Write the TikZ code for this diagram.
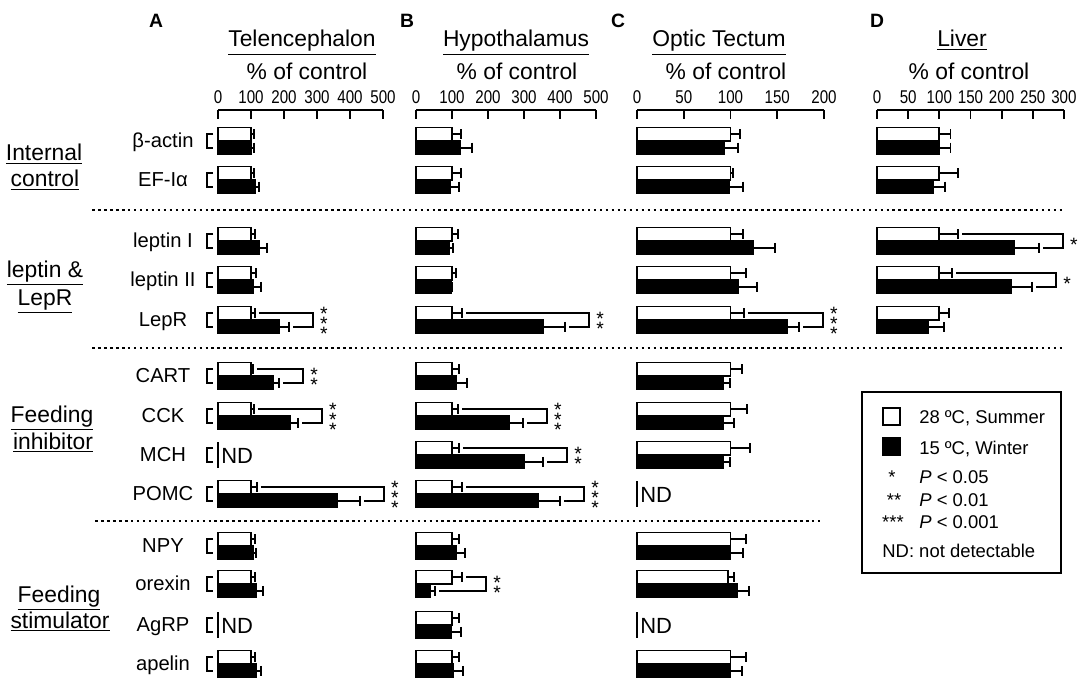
\documentclass[tikz,border=0pt]{standalone}
\usepackage{fontspec}
\setmainfont{Liberation Sans}
\newfontfamily\tickfont[FakeStretch=0.82]{Liberation Sans}

\tikzset{
  whitebar/.style={draw=black, fill=white, line width=1.1pt},
  blackbar/.style={draw=black, fill=black, line width=1.1pt},
  errline/.style={line width=1.1pt},
  axisline/.style={line width=1.1pt},
  refmark/.style={line width=1.5pt},
  sepline/.style={line width=1.5pt, dash pattern=on 1.5pt off 1.9pt},
  paneltag/.style={font=\fontsize{11}{12}\selectfont\bfseries, anchor=base},
  panelname/.style={font=\fontsize{13}{15}\selectfont, anchor=base},
  ticklabel/.style={font=\fontsize{10.5}{11}\selectfont\tickfont, anchor=base, inner sep=0pt},
  genelabel/.style={font=\fontsize{11.5}{13}\selectfont, anchor=base},
  grouplabel/.style={font=\fontsize{13}{15}\selectfont, anchor=base},
  ndlabel/.style={font=\fontsize{12.5}{14}\selectfont, anchor=base west, inner sep=0pt},
  sigstack/.style={font=\fontsize{11}{12}\selectfont, inner sep=0pt, yshift=-2.4pt},
  legendtext/.style={font=\fontsize{10.5}{12}\selectfont, anchor=base west, inner sep=0pt},
}

% stars stacked one under another
\newcommand{\starstack}[1]{\vbox{\baselineskip=5.7pt\lineskiplimit=-\maxdimen
  \hbox{*}\ifnum#1>1 \hbox{*}\fi\ifnum#1>2 \hbox{*}\fi}}

% axis on top of a panel: x0, px per unit, step, max, name
\newcommand{\valueaxis}[5]{%
  \draw[axisline] (#1,110) -- (#1+#2*#4,110);
  \foreach \t in {0,#3,...,#4} {
    \draw[axisline] (#1+#2*\t,110) -- (#1+#2*\t,119);
    \node[ticklabel] (#5tick\t) at (#1+#2*\t,104) {\t};
  }
}

% one gene: x0, px per unit, row y, summer, err, winter, err, stars
\newcommand{\generow}[8]{%
  \pgfmathsetmacro\wend{#1+#2*#4}
  \pgfmathsetmacro\wcap{\wend+#2*#5}
  \pgfmathsetmacro\bend{#1+#2*#6}
  \pgfmathsetmacro\bcap{\bend+#2*#7}
  \draw[whitebar] (#1,#3-13.5) rectangle (\wend,#3);
  \draw[blackbar] (#1,#3) rectangle (\bend,#3+13.5);
  \draw[errline] (\wend,#3-6.75) -- (\wcap,#3-6.75);
  \draw[errline] (\wcap,#3-11.75) -- (\wcap,#3-1.75);
  \draw[errline] (\bend,#3+6.75) -- (\bcap,#3+6.75);
  \draw[errline] (\bcap,#3+1.75) -- (\bcap,#3+11.75);
  \ifnum#8>0
    \pgfmathsetmacro\brx{max(\wcap,\bcap)+24}
    \draw[errline] (\wcap+4,#3-6.75) -- (\brx,#3-6.75) -- (\brx,#3+6.75) -- (\bcap+4,#3+6.75);
    \node[sigstack] (sig#3) at (\brx+11,#3) {\starstack{#8}};
  \fi
}

% not detectable: x0, row y
\newcommand{\ndrow}[2]{%
  \draw[axisline] (#1,#2-13) -- (#1,#2+13);
  \node[ndlabel] (nd#2) at (#1+3,#2+8) {ND};
}

\begin{document}
\begin{tikzpicture}[x=0.02cm, y=-0.02cm]
\useasboundingbox (0,0) rectangle (1084,682);

% panel heads
\node[paneltag] (tagA) at (156,28) {A};
\node[paneltag] (tagB) at (407,28) {B};
\node[paneltag] (tagC) at (618,28) {C};
\node[paneltag] (tagD) at (877,28) {D};
\node[panelname] (telen) at (302,47) {\underline{Telencephalon}};
\node[panelname] (hypo) at (516,47) {\underline{Hypothalamus}};
\node[panelname] (tectum) at (719,47) {\underline{Optic Tectum}};
\node[panelname] (liver) at (962,47) {\underline{Liver}};
\foreach \xx/\nm in {307/A, 517/B, 726/C, 969/D}
  \node[panelname] (ctrl\nm) at (\xx,80) {\% of control};

\valueaxis{218}{0.33}{100}{500}{A}
\valueaxis{416}{0.36}{100}{500}{B}
\valueaxis{637}{0.935}{50}{200}{C}
\valueaxis{877}{0.623}{50}{300}{D}

% gene names and marks
\foreach \yy/\lab [count=\i] in {141/β-actin, 180/EF-Iα, 241/leptin I, 280/leptin II,
    320/LepR, 376/CART, 416/CCK, 455/MCH, 494/POMC, 546/NPY, 584/orexin, 625/AgRP, 664/apelin} {
  \node[genelabel] (gene\i) at (163,\yy+6.5) {\lab};
  \draw[refmark] (213,\yy-7) -- (207,\yy-7) -- (207,\yy+7) -- (213,\yy+7);
}

% groups
\node[grouplabel] (grp1a) at (44,161) {\underline{Internal}};
\node[grouplabel] (grp1b) at (45,187) {\underline{control}};
\node[grouplabel] (grp2a) at (45,277) {\underline{leptin \&}};
\node[grouplabel] (grp2b) at (45,305) {\underline{LepR}};
\node[grouplabel] (grp3a) at (52,422) {\underline{Feeding}};
\node[grouplabel] (grp3b) at (53,449) {\underline{inhibitor}};
\node[grouplabel] (grp4a) at (59,602) {\underline{Feeding}};
\node[grouplabel] (grp4b) at (60,628) {\underline{stimulator}};

\draw[sepline] (92,210) -- (1062,210);
\draw[sepline] (92,348) -- (1063,348);
\draw[sepline] (95,521) -- (822,521);

% Telencephalon
\foreach \yy/\wv/\we/\bv/\be/\st in {141/100/10/100/10/0, 180/100/8/112/12/0,
    241/100/12/124/24/0, 280/100/14/106/24/0, 320/100/12/185/30/3,
    376/100/6/167/18/2, 416/100/9/218/24/3, 494/100/18/360/70/3,
    546/100/12/105/9/0, 584/100/12/115/21/0, 664/100/12/115/15/0}
  {\generow{218}{0.33}{\yy}{\wv}{\we}{\bv}{\be}{\st}}
\ndrow{218}{455}
\ndrow{218}{625}

% Hypothalamus
\foreach \yy/\wv/\we/\bv/\be/\st in {141/100/25/121/34/0, 180/100/25/94/25/0,
    241/100/16/92/11/0, 280/100/10/97/3/0, 320/100/28/353/61/2,
    376/100/19/111/31/0, 416/100/17/258/39/3, 455/100/19/300/53/2,
    494/100/28/339/61/3, 546/100/19/111/25/0, 584/100/28/39/14/2,
    625/100/19/97/28/0, 664/100/19/103/28/0}
  {\generow{416}{0.36}{\yy}{\wv}{\we}{\bv}{\be}{\st}}

% Optic Tectum
\foreach \yy/\wv/\we/\bv/\be/\st in {141/100/10/93/15/0, 180/100/3/98/15/0,
    241/100/13/124/24/0, 280/100/17/108/20/0, 320/100/14/160/13/3,
    376/100/12/92/7/0, 416/100/18/92/12/0, 455/100/21/92/7/0,
    546/100/17/100/13/0, 584/97/7/107/13/0, 664/100/17/100/12/0}
  {\generow{637}{0.935}{\yy}{\wv}{\we}{\bv}{\be}{\st}}
\ndrow{637}{494}
\ndrow{637}{625}

% Liver
\foreach \yy/\wv/\we/\bv/\be/\st in {141/100/18/100/18/0, 180/100/30/90/19/0,
    241/100/30/220/40/1, 280/100/21/215/34/1, 320/100/16/82/25/0}
  {\generow{877}{0.623}{\yy}{\wv}{\we}{\bv}{\be}{\st}}

% legend
\draw[axisline] (862,392) rectangle (1061,573);
\draw[whitebar] (883,408) rectangle (900,425);
\draw[blackbar] (883,438) rectangle (900,455);
\node[legendtext] (summer) at (919,423) {28 ºC, Summer};
\node[legendtext] (winter) at (919,454) {15 ºC, Winter};
\node[legendtext, anchor=base] (one) at (892,483) {*};
\node[legendtext, anchor=base] (two) at (894,506) {**};
\node[legendtext, anchor=base] (three) at (893,528) {***};
\node[legendtext] (p1) at (919,483) {\textit{P} < 0.05};
\node[legendtext] (p2) at (919,506) {\textit{P} < 0.01};
\node[legendtext] (p3) at (919,528) {\textit{P} < 0.001};
\node[legendtext] (ndnote) at (882,557) {ND: not detectable};

\end{tikzpicture}
\end{document}
